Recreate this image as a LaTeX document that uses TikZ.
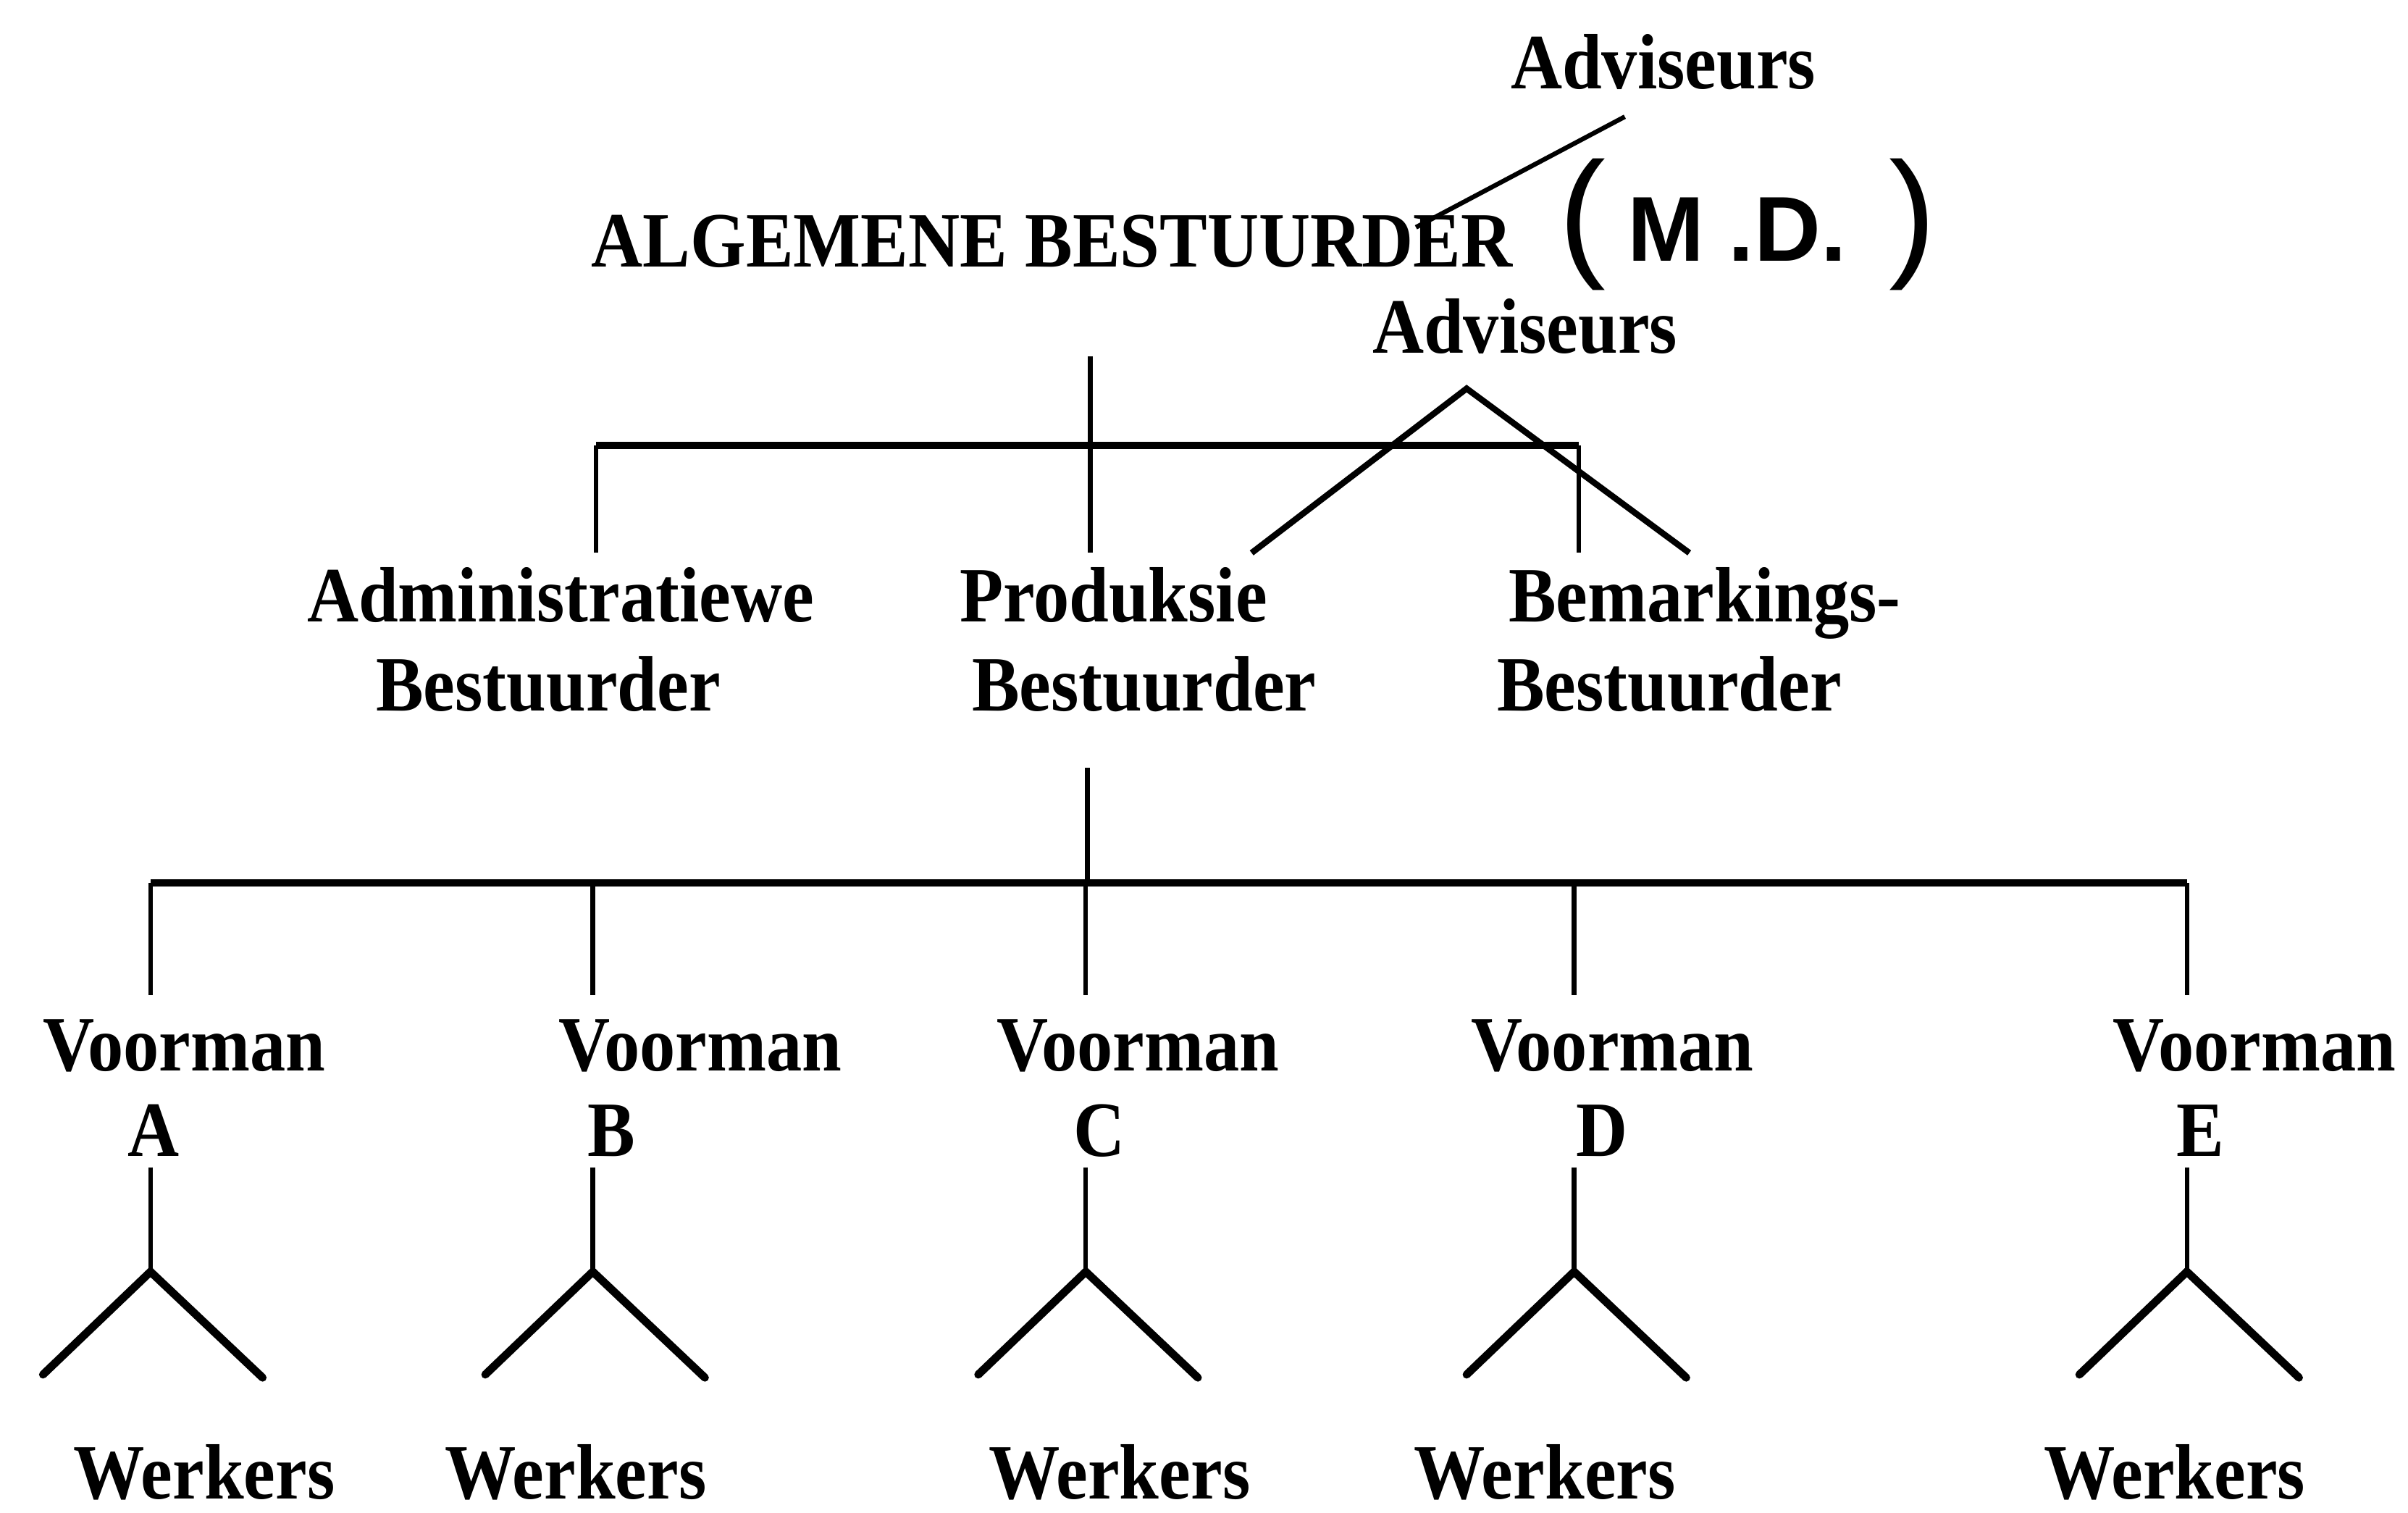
\documentclass[tikz,border=0pt]{standalone}
\usepackage{fontspec}
\setmainfont{Liberation Serif}[FakeStretch=0.91]
\newfontfamily\handfont{Liberation Sans}
\usetikzlibrary{positioning,calc}

\tikzset{
  lbl/.style={font=\fontsize{25.5}{29}\selectfont\bfseries, inner sep=0pt, anchor=base},
  tie/.style={line width=1.5pt},
  bar/.style={line width=2.4pt},
  fork/.style={line width=2.6pt, line cap=round, line join=miter}
}

\begin{document}
\begin{tikzpicture}[x=0.5pt,y=-0.5pt]
      \useasboundingbox (0,0) rectangle (1568,985);

      % top
      \node[lbl] (adv1) at (1083,58) {Adviseurs};
      \node[lbl] (ab) at (685,174) {ALGEMENE BESTUURDER};
      \node[inner sep=0pt] (md) at (1138,146)
        {\handfont{\fontsize{46}{46}\selectfont(}\hspace{7pt}{\fontsize{30}{30}\selectfont\bfseries M\hspace{8pt}.D.}\hspace{14pt}{\fontsize{46}{46}\selectfont)}};
      \node[lbl] (adv2) at (993,230) {Adviseurs};

      \coordinate (a1) at (1058,76);
      \coordinate (a2) at (922,148);
      \draw[tie] (a1) -- (a2);

      % managers
      \node[lbl] (adm) at (365,405) {Administratiewe};
      \node[lbl] (admb) at (357,463) {Bestuurder};
      \node[lbl] (prod) at (725,405) {Produksie};
      \node[lbl] (prodb) at (745,463) {Bestuurder};
      \node[lbl] (bem) at (1110,405) {Bemarkings-};
      \node[lbl] (bemb) at (1087,463) {Bestuurder};

      \coordinate (abdown) at (710,232);
      \coordinate (abbar) at (710,290);
      \coordinate (prodtop) at (710,360);
      \coordinate (admbar) at (388,290);
      \coordinate (admtop) at (388,360);
      \coordinate (bembar) at (1028,290);
      \coordinate (bemtop) at (1028,360);
      \coordinate (advapex) at (955,253);
      \coordinate (advl) at (815,360);
      \coordinate (advr) at (1100,360);

      \draw[bar] (admbar) -- (bembar);
      \draw[tie] (abdown) -- (prodtop);
      \draw[tie] (admbar) -- (admtop);
      \draw[tie] (bembar) -- (bemtop);
      \draw[tie, line width=2pt] (advl) -- (advapex) -- (advr);

      % foremen and workers
      \coordinate (pdown) at (708,500);
      \coordinate (pbar) at (708,575);
      \draw[tie] (pdown) -- (pbar);

      \foreach \n/\v/\l/\s/\w in {A/120/100/98/133, B/456/398/386/375,
          C/741/716/707/729, D/1050/1043/1025/1006, E/1468/1433/1424/1416} {
        \node[lbl] (vm\n) at (\v,697) {Voorman};
        \node[lbl] (lt\n) at (\l,753) {\n};
        \node[lbl] (wk\n) at (\w,976) {Werkers};
        \coordinate (top\n) at (\s,575);
        \coordinate (drop\n) at (\s,648);
        \coordinate (stem\n) at (\s,760);
        \coordinate (apex\n) at (\s,828);
        \coordinate (legl\n) at (\s-70,895);
        \coordinate (legr\n) at (\s+73,897);
        \draw[tie] (top\n) -- (drop\n);
        \draw[tie] (stem\n) -- (apex\n);
        \draw[fork] (legl\n) -- (apex\n) -- (legr\n);
      }
      \draw[bar] (topA) -- (topE);
    \end{tikzpicture}
\end{document}
